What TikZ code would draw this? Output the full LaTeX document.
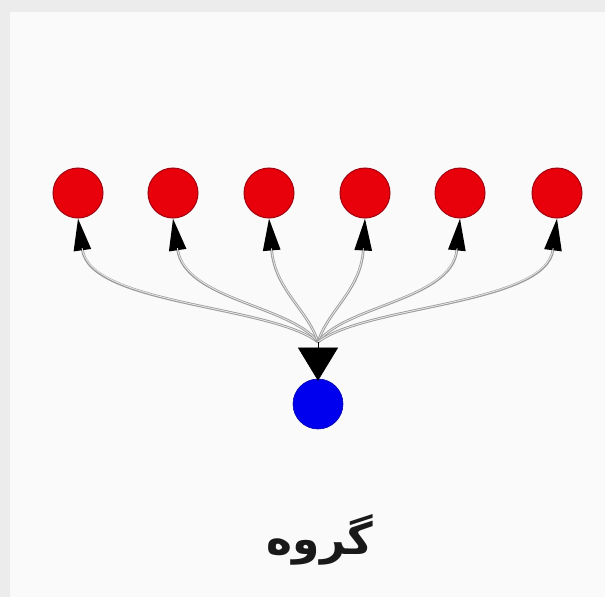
\documentclass[tikz,border=0pt]{standalone}
\usepackage{fontspec}
\usetikzlibrary{arrows.meta}
\TeXXeTstate=1
\newfontfamily\arabicfont[Script=Arabic]{DejaVu Sans}
\definecolor{nodered}{HTML}{E8000B}
\definecolor{reddark}{HTML}{A00010}
\definecolor{nodeblue}{HTML}{0000EE}
\definecolor{bgout}{HTML}{ECECEC}
\definecolor{bgin}{HTML}{FAFAFA}
\tikzset{
  rednode/.style={circle, minimum size=50pt, inner sep=0pt, fill=nodered, draw=reddark, line width=1pt},
  bluenode/.style={circle, minimum size=50pt, inner sep=0pt, fill=nodeblue, draw=nodeblue!70!black, line width=0.6pt},
  fanedge/.style={-{Triangle[length=32pt,width=17pt,color=black]}, draw=gray!80, line width=2.6pt,
     postaction={draw=gray!20, line width=0.9pt, -, shorten >=30pt}},
  hubedge/.style={-{Triangle[length=33pt,width=40pt,color=black]}, draw=black, line width=0.5pt},
  label/.style={font=\arabicfont\bfseries\fontsize{44}{50}\selectfont, text=black!90}
}
\begin{document}
\begin{tikzpicture}[x=1pt,y=-1pt]
\useasboundingbox (0,0) rectangle (605,597);
\fill[bgout] (0,0) rectangle (605,597);
\fill[bgin] (10,12) rectangle (605,597);
\node[rednode] (r1) at (78,193) {};
\node[rednode] (r2) at (173,193) {};
\node[rednode] (r3) at (269,193) {};
\node[rednode] (r4) at (365,193) {};
\node[rednode] (r5) at (460,193) {};
\node[rednode] (r6) at (557,193) {};
\node[bluenode] (b) at (318,404) {};
\coordinate (hub) at (318,342);
\draw[fanedge] (hub) .. controls (270,305) and (90,305) .. (r1.south);
\draw[fanedge] (hub) .. controls (290,305) and (185,300) .. (r2.south);
\draw[fanedge] (hub) .. controls (308,310) and (275,290) .. (r3.south);
\draw[fanedge] (hub) .. controls (328,310) and (361,290) .. (r4.south);
\draw[fanedge] (hub) .. controls (346,305) and (452,300) .. (r5.south);
\draw[fanedge] (hub) .. controls (366,305) and (546,305) .. (r6.south);
\draw[hubedge] (hub) -- ([yshift=-2pt]b.north);
\node[label] (t) at (320,540) {\beginR گروه\endR};
\end{tikzpicture}
\end{document}
